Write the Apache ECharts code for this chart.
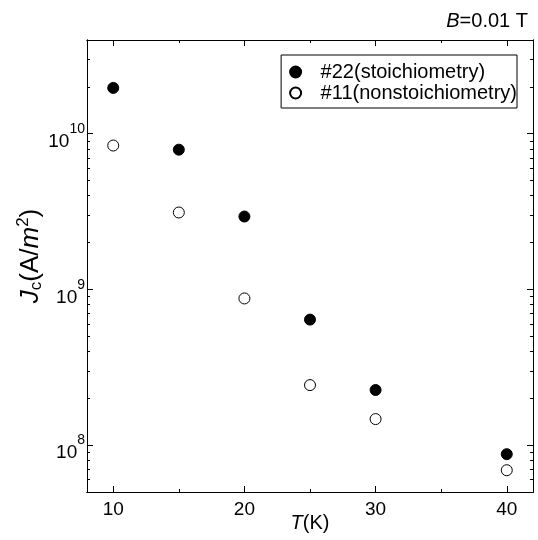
<!DOCTYPE html>
<html><head><meta charset="utf-8">
<script src="https://cdn.jsdelivr.net/npm/echarts@6/dist/echarts.min.js"></script>
<style>html,body{margin:0;padding:0;background:#fff}#c{width:538px;height:540px}</style>
</head><body><div id="c"></div>
<script>
const temperatures = [10, 15, 20, 25, 30, 40];
const jcStoich = [1.97e10, 7.9e9, 2.94e9, 6.4e8, 2.26e8, 8.75e7];
const jcNonStoich = [8.4e9, 3.12e9, 8.75e8, 2.43e8, 1.47e8, 6.9e7];
const xMajorTicks = [10, 20, 30, 40];
const xMinorTicks = [15, 25, 35];
const yMajorTicks = [1e8, 1e9, 1e10];
const yMinorTicks = [6e7, 7e7, 8e7, 9e7, 2e8, 3e8, 4e8, 5e8, 6e8, 7e8, 8e8, 9e8, 2e9, 3e9, 4e9, 5e9, 6e9, 7e9, 8e9, 9e9, 2e10, 3e10];
const seriesNames = ['#22(stoichiometry)', '#11(nonstoichiometry)'];

const FONT = 'Liberation Sans, Arial, sans-serif';
const XMIN = 8, XMAX = 42, YMIN = 5e7, YMAX = 4e10;

function xAxisDef(pos, ticks, len, labels) {
  return {
    type: 'value', position: pos, min: XMIN, max: XMAX,
    axisLine: { show: true, onZero: false, lineStyle: { color: '#000', width: 1 } },
    axisTick: { show: true, inside: true, length: len, customValues: ticks, lineStyle: { color: '#000', width: 1 } },
    axisLabel: labels ? { show: true, customValues: ticks, color: '#000', fontSize: 19, fontFamily: FONT, margin: 8 } : { show: false },
    splitLine: { show: false }
  };
}
function yAxisDef(pos, ticks, len, labels) {
  return {
    type: 'log', logBase: 10, position: pos, min: YMIN, max: YMAX,
    axisLine: { show: true, onZero: false, lineStyle: { color: '#000', width: 1 } },
    axisTick: { show: true, inside: true, length: len, customValues: ticks, lineStyle: { color: '#000', width: 1 } },
    axisLabel: labels ? {
      show: true, customValues: ticks, color: '#000', fontFamily: FONT, margin: 2,
      formatter: v => '{b|10}{s|' + Math.round(Math.log10(v)) + '}',
      rich: {
        b: { fontSize: 19, fontFamily: FONT, color: '#000', padding: [16, 0, 0, 0] },
        s: { fontSize: 14, fontFamily: FONT, color: '#000', padding: [0, 0, 9, 0] }
      }
    } : { show: false },
    splitLine: { show: false }
  };
}

const xAxes = [
  xAxisDef('bottom', xMajorTicks, 6, true),
  xAxisDef('bottom', xMinorTicks, 3, false),
  xAxisDef('top', xMajorTicks, 6, false),
  xAxisDef('top', xMinorTicks, 3, false)
];
xAxes[0].name = '{i|T}(K)';
xAxes[0].nameLocation = 'middle';
xAxes[0].nameGap = 21;
xAxes[0].nameMoveOverlap = false;
xAxes[0].nameTextStyle = { fontSize: 20, fontFamily: FONT, color: '#000', rich: { i: { fontSize: 20, fontStyle: 'italic', fontFamily: FONT, color: '#000' } } };

const yAxes = [
  yAxisDef('left', yMajorTicks, 6, true),
  yAxisDef('left', yMinorTicks, 3, false),
  yAxisDef('right', yMajorTicks, 6, false),
  yAxisDef('right', yMinorTicks, 3, false)
];
yAxes[0].name = '{i|J}{sub|c}(A/{i|m}{sup|2})';
yAxes[0].nameLocation = 'middle';
yAxes[0].nameRotate = 90;
yAxes[0].nameGap = 41;
yAxes[0].nameMoveOverlap = false;
yAxes[0].nameTextStyle = {
  fontSize: 26, fontFamily: FONT, color: '#000', padding: [0, 0, 0, 20],
  rich: {
    i: { fontSize: 26, fontStyle: 'italic', fontFamily: FONT, color: '#000' },
    sub: { fontSize: 17, fontFamily: FONT, color: '#000', padding: [11, 0, 0, 0] },
    sup: { fontSize: 17, fontFamily: FONT, color: '#000', padding: [0, 0, 14, 0] }
  }
};

const chart = echarts.init(document.getElementById('c'), null, { renderer: 'canvas' });
chart.setOption({
  animation: false,
  backgroundColor: '#fff',
  title: {
    text: '{i|B}=0.01 T', right: 10, top: 11, padding: 0,
    textStyle: { fontSize: 20, fontWeight: 'normal', fontFamily: FONT, color: '#000',
      rich: { i: { fontSize: 20, fontStyle: 'italic', fontFamily: FONT, color: '#000' } } }
  },
  grid: { left: 87, right: 5, top: 40, bottom: 48, containLabel: false, outerBoundsMode: 'none' },
  legend: {
    orient: 'vertical', right: 21, top: 55,
    backgroundColor: '#fff', borderColor: '#000', borderWidth: 1,
    padding: [7, 0, 5, 8], itemGap: 1, itemWidth: 30, itemHeight: 11,
    textStyle: { fontSize: 20, fontFamily: FONT, color: '#000', padding: [0, 0, 0, 5] },
    data: seriesNames
  },
  xAxis: xAxes,
  yAxis: yAxes,
  series: [
    {
      name: seriesNames[0], type: 'scatter', xAxisIndex: 0, yAxisIndex: 0,
      symbol: 'circle', symbolSize: 11,
      itemStyle: { color: '#000', borderColor: '#000', borderWidth: 1, opacity: 1 },
      data: temperatures.map((t, i) => [t, jcStoich[i]])
    },
    {
      name: seriesNames[1], type: 'scatter', xAxisIndex: 0, yAxisIndex: 0,
      symbol: 'circle', symbolSize: 11,
      itemStyle: { color: '#fff', borderColor: '#000', borderWidth: 1, opacity: 1 },
      data: temperatures.map((t, i) => [t, jcNonStoich[i]])
    }
  ]
});
</script></body></html>
